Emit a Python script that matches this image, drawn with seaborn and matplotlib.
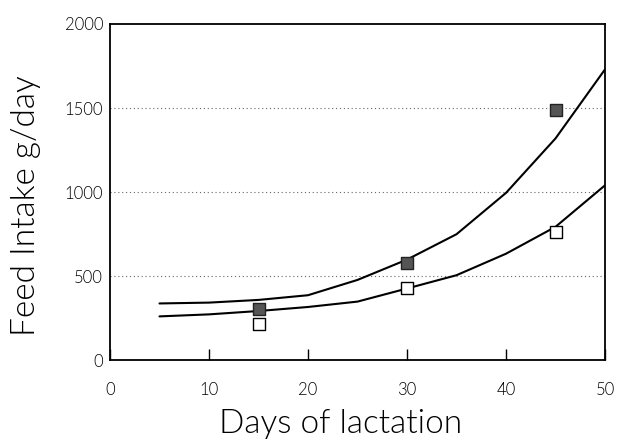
import matplotlib
matplotlib.use("Agg")
import matplotlib.pyplot as plt
import pandas as pd
import seaborn as sns

# Fitted intake curves (g/day), read every 5 days of lactation
curve_days = [5, 10, 15, 20, 25, 30, 35, 40, 45, 50]
curve_high = [337, 342, 358, 386, 477, 598, 749, 995, 1319, 1730]
curve_low = [260, 272, 292, 316, 348, 426, 505, 633, 793, 1040]

# Observed intakes
obs_days = [15, 30, 45]
obs_high = [304, 579, 1490]
obs_low = [215, 430, 764]

x_ticks = [0, 10, 20, 30, 40, 50]
y_ticks = [0, 500, 1000, 1500, 2000]

sns.set_theme(style="white")
plt.rcParams["font.family"] = ["Lato", "DejaVu Sans"]
plt.rcParams["text.color"] = "black"
plt.rcParams["axes.labelcolor"] = "black"
plt.rcParams["xtick.color"] = "black"
plt.rcParams["ytick.color"] = "black"

fig = plt.figure(figsize=(6.18, 4.44), dpi=100)
ax = fig.add_axes([0.178, 0.189, 0.801, 0.757])

curves = pd.DataFrame({
    "day": curve_days * 2,
    "intake": curve_high + curve_low,
    "group": ["high"] * len(curve_days) + ["low"] * len(curve_days),
})
obs = pd.DataFrame({"day": obs_days, "high": obs_high, "low": obs_low})

for yv in [500, 1000, 1500]:
    ax.axhline(yv, color="#666666", lw=0.8, ls=(0, (1, 2.5)), zorder=0)

sns.lineplot(data=curves, x="day", y="intake", units="group", estimator=None,
             color="black", lw=1.5, ax=ax, legend=False)
sns.scatterplot(data=obs, x="day", y="high", marker="s", s=65,
                color="#555555", edgecolor="#222222", linewidth=1.0,
                ax=ax, zorder=5)
sns.scatterplot(data=obs, x="day", y="low", marker="s", s=65,
                color="white", edgecolor="black", linewidth=1.0,
                ax=ax, zorder=5)

ax.set_xlim(0, 50)
ax.set_ylim(0, 2000)
ax.set_xticks(x_ticks)
ax.set_yticks(y_ticks)
ax.set_xticklabels([str(v) for v in x_ticks], fontsize=12, fontweight=300)
ax.set_yticklabels([str(v) for v in y_ticks], fontsize=12, fontweight=300)
ax.tick_params(axis="x", direction="in", length=8, width=1.0, pad=16,
               bottom=True)
ax.tick_params(axis="y", length=0, pad=5)

for side in ["left", "right", "top", "bottom"]:
    ax.spines[side].set_visible(True)
    ax.spines[side].set_color("black")
    ax.spines[side].set_linewidth(1.3)

ax.set_xlabel("Days of lactation", fontsize=24, fontweight=300)
ax.set_ylabel("Feed Intake g/day", fontsize=24, fontweight=300)
ax.xaxis.set_label_coords(0.465, -0.145)
ax.yaxis.set_label_coords(-0.14, 0.46)

fig.savefig("out.png", dpi=100, facecolor="white")
